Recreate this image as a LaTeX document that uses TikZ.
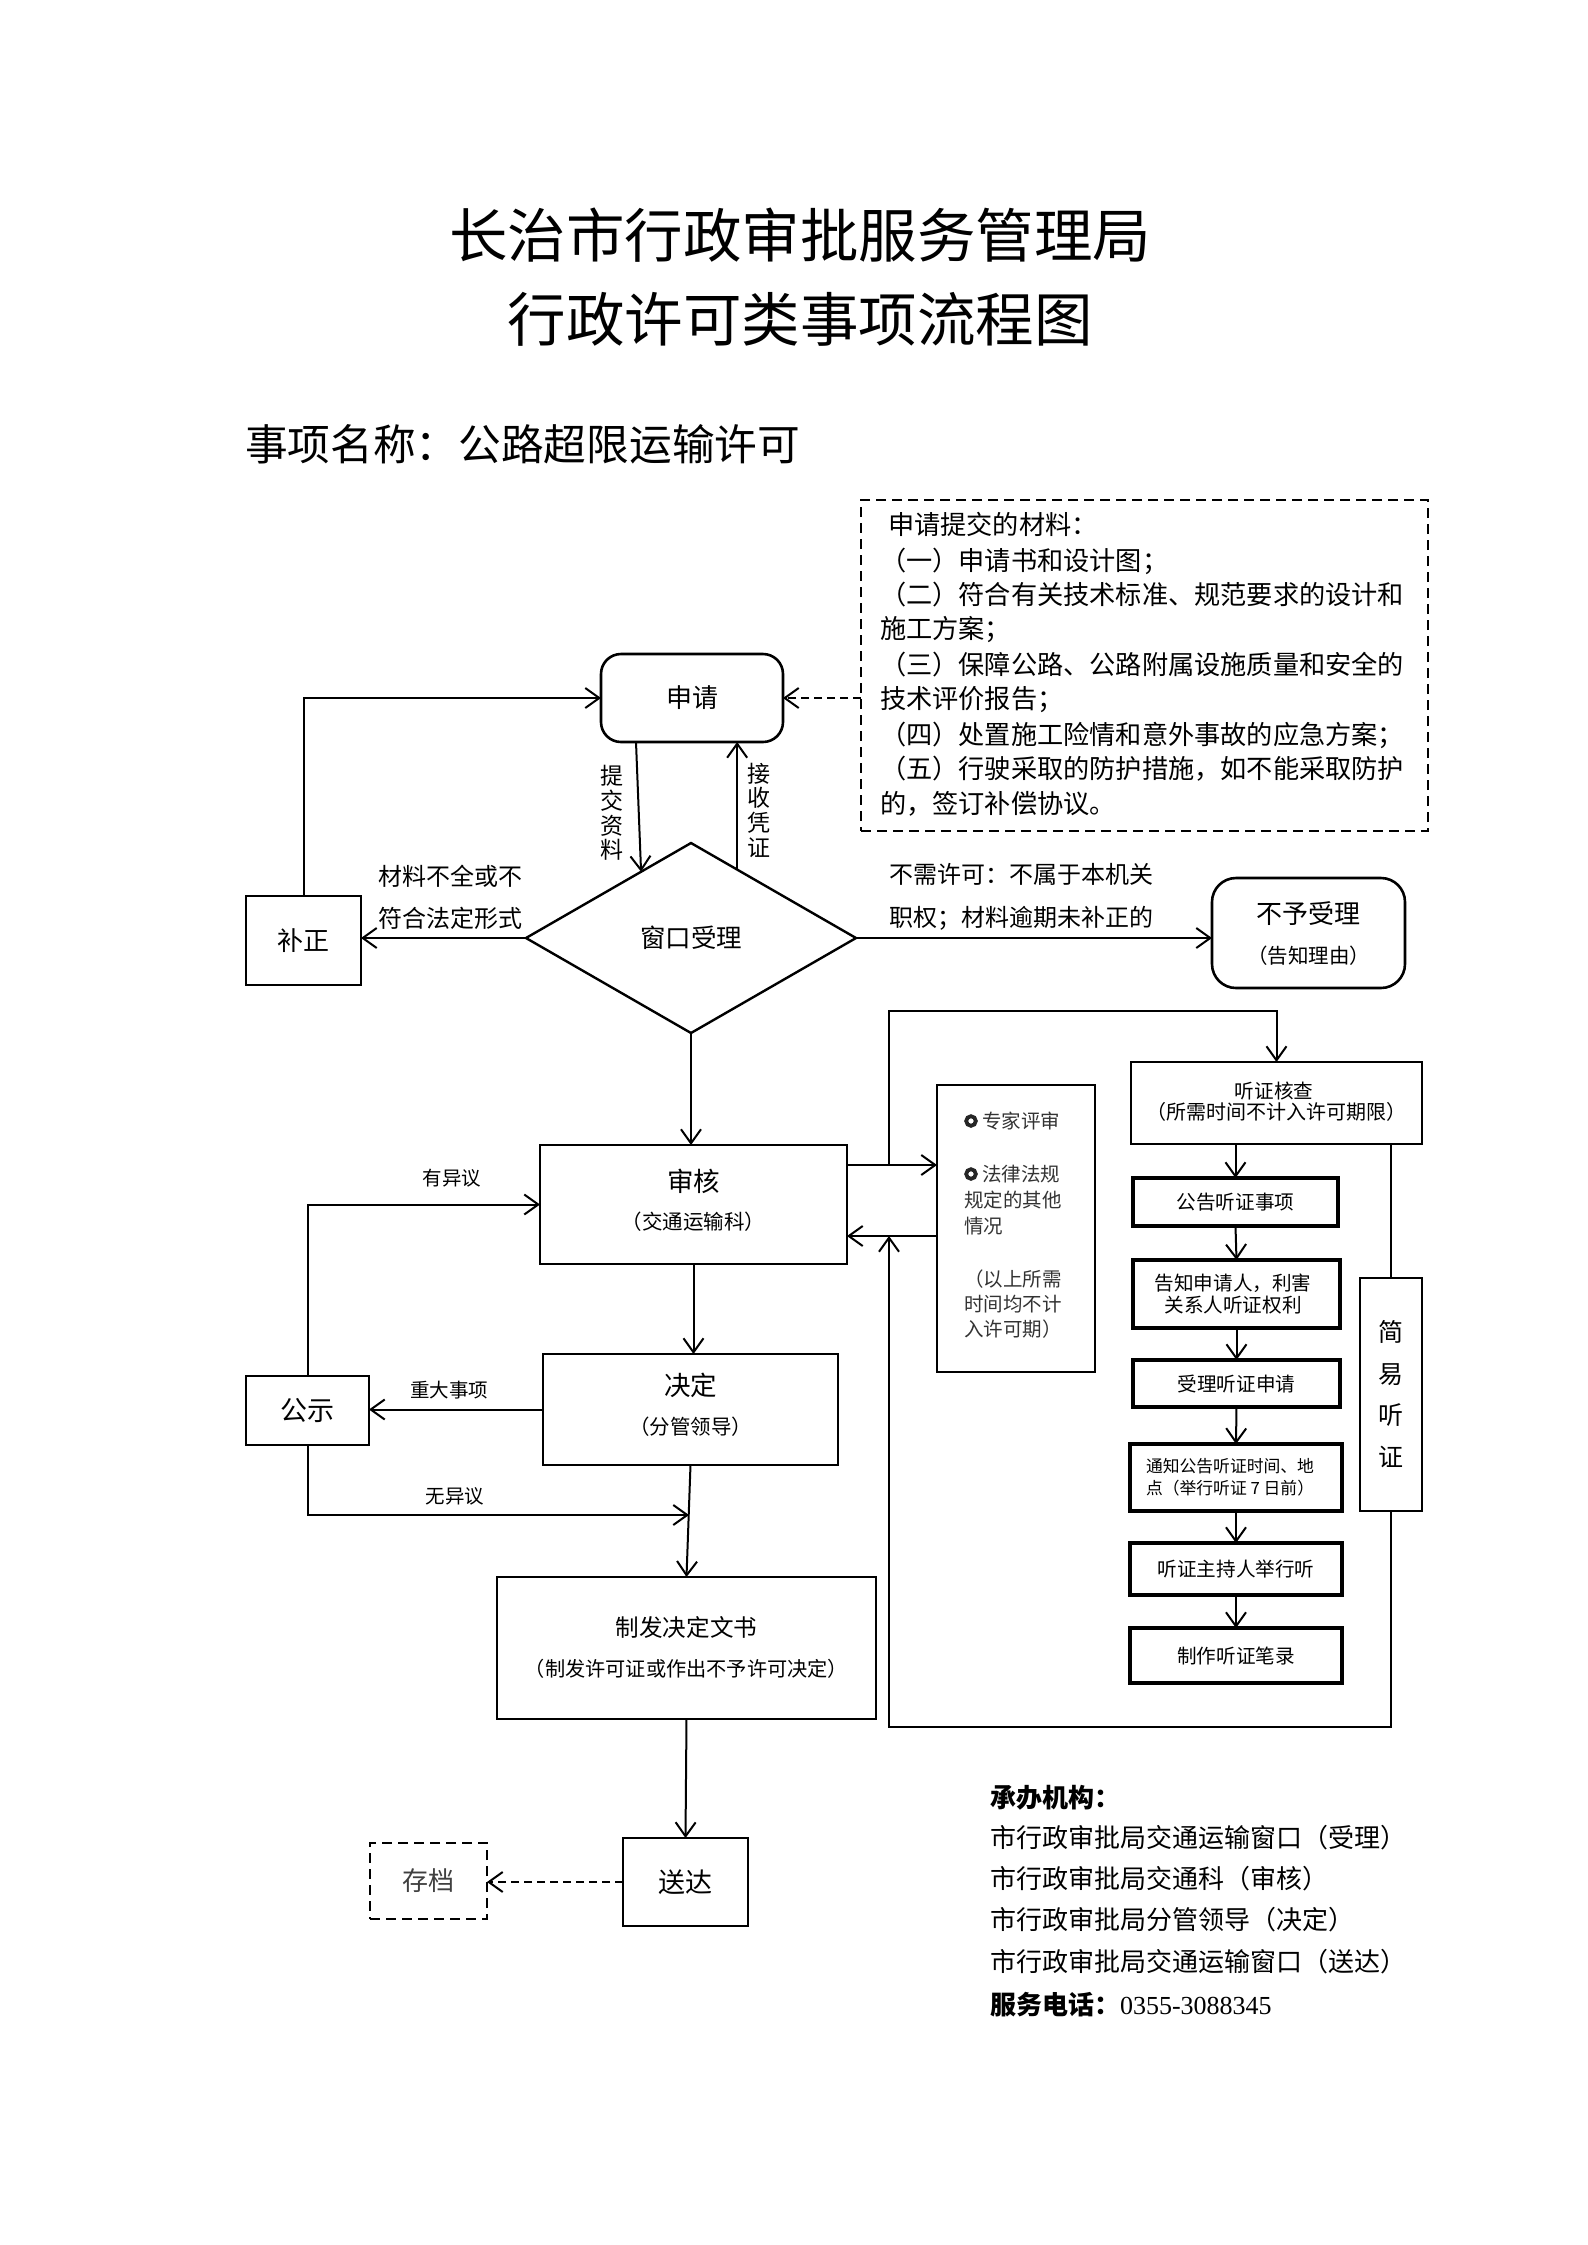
\documentclass[tikz,border=0pt]{standalone}
\usepackage{fontspec}
\setmainfont{Noto Sans CJK SC}
\newfontfamily\numfont{Liberation Serif}
\usetikzlibrary{arrows.meta,shapes.geometric,calc}
\newcommand\myfs[1]{\fontsize{#1}{#1}\selectfont}
\newcommand\mkbox[7]{%
  \node[#6, minimum width={(#4-#2)*0.5pt}, minimum height={(#5-#3)*0.5pt}] (#1) at ({(#2+#4)/2},{(#3+#5)/2}) {#7};}
\tikzset{
  bxs/.style={draw, line width=1.3pt, inner sep=0pt, outer sep=0pt},
  thk/.style={draw, line width=2pt, inner sep=0pt, outer sep=0pt},
  arr/.style={line width=1pt, -{Straight Barb[length=7pt,width=10pt,line width=1pt]}},
  ln/.style={line width=1pt},
  dsh/.style={dash pattern=on 5pt off 3pt},
  dshb/.style={dash pattern=on 4pt off 2.5pt},
  txt/.style={inner sep=0pt, outer sep=0pt},
  wtxt/.style={inner sep=0pt, outer sep=0pt, anchor=west},
}
\begin{document}
\begin{tikzpicture}[x=0.5pt,y=-0.5pt]
\useasboundingbox (0,0) rectangle (1587,2245);
\fill[white] (0,0) rectangle (1587,2245);

% titles
\node[txt, font=\myfs{29.25}] (t1) at (800,235) {长治市行政审批服务管理局};
\node[txt, font=\myfs{29.25}] (t2) at (800,319) {行政许可类事项流程图};
\node[wtxt, font=\myfs{21.35}] (t3) at (245,444) {事项名称：公路超限运输许可};

% dashed materials box
\mkbox{db}{861}{500}{1428}{831}{draw, line width=1.2pt, dsh, inner sep=0pt, outer sep=0pt}{}
\begin{scope}[every node/.style={wtxt, font=\myfs{13.1}}]
\node (d1) at (888,524) {申请提交的材料：};
\node (d2) at (880,561) {（一）申请书和设计图；};
\node (d3) at (880,595) {（二）符合有关技术标准、规范要求的设计和};
\node (d4) at (880,630) {施工方案；};
\node (d5) at (880,665) {（三）保障公路、公路附属设施质量和安全的};
\node (d6) at (880,700) {技术评价报告；};
\node (d7) at (880,735) {（四）处置施工险情和意外事故的应急方案；};
\node (d8) at (880,769) {（五）行驶采取的防护措施，如不能采取防护};
\node (d9) at (880,804) {的，签订补偿协议。};
\end{scope}

% main flow boxes
\mkbox{sq}{601}{654}{783}{742}{bxs, rounded corners=10pt, font=\myfs{13}}{申请}
\mkbox{bz}{246}{896}{361}{985}{bxs, font=\myfs{13}}{补正}
\node[diamond, draw, line width=1.2pt, inner sep=0pt, outer sep=0pt, minimum width=165pt, minimum height=95pt, font=\myfs{12.75}] (win) at (691,938) {窗口受理};
\mkbox{bsl}{1212}{878}{1405}{988}{bxs, rounded corners=12pt}{}
\node[txt, font=\myfs{13}] (bslA) at (1308.5,914) {不予受理};
\node[txt, font=\myfs{10.25}] (bslB) at (1308.5,956) {（告知理由）};
\mkbox{sh}{540}{1145}{847}{1264}{bxs}{}
\node[txt, font=\myfs{13.25}] (shA) at (693.5,1181) {审核};
\node[txt, font=\myfs{10.25}] (shB) at (693.5,1222) {（交通运输科）};
\mkbox{jd}{543}{1354}{838}{1465}{bxs}{}
\node[txt, font=\myfs{13.25}] (jdA) at (690.5,1385) {决定};
\node[txt, font=\myfs{10.25}] (jdB) at (690.5,1427) {（分管领导）};
\mkbox{gs}{246}{1376}{369}{1445}{bxs, font=\myfs{13.5}}{公示}
\mkbox{zf}{497}{1577}{876}{1719}{bxs}{}
\node[txt, font=\myfs{11.8}] (zfA) at (686.5,1627) {制发决定文书};
\node[txt, font=\myfs{10.1}] (zfB) at (686.5,1669) {（制发许可证或作出不予许可决定）};
\mkbox{sd}{623}{1838}{748}{1926}{bxs, font=\myfs{13.5}}{送达}
\mkbox{cd}{370}{1843}{487}{1919}{draw, line width=1.2pt, dsh, inner sep=0pt, outer sep=0pt, font=\myfs{13}, text=black!75}{存档}

% labels
\node[txt, align=center, font=\fontsize{11.5}{12.35}\selectfont] (lb1) at (612,813) {提\\交\\资\\料};
\node[txt, align=center, font=\fontsize{11.5}{12.35}\selectfont] (lb2) at (759,810) {接\\收\\凭\\证};
\node[wtxt, font=\myfs{12}] (lb3) at (378,876) {材料不全或不};
\node[wtxt, font=\myfs{12}] (lb4) at (378,918) {符合法定形式};
\node[wtxt, font=\myfs{12}] (lb5) at (889,874) {不需许可：不属于本机关};
\node[wtxt, font=\myfs{12}] (lb6) at (889,918) {职权；材料逾期未补正的};
\node[txt, font=\myfs{9.75}] (lb7) at (452,1178) {有异议};
\node[txt, font=\myfs{9.75}] (lb8) at (449,1390) {重大事项};
\node[txt, font=\myfs{9.75}] (lb9) at (455,1496) {无异议};

% right part
\mkbox{zj}{937}{1085}{1095}{1372}{bxs}{}
\begin{scope}[every node/.style={wtxt, font=\myfs{9.75}, text=black!80}]
\node (z1) at (982,1121) {专家评审};
\node (z2) at (982,1174) {法律法规};
\node (z3) at (964,1200) {规定的其他};
\node (z4) at (964,1226) {情况};
\node (z5) at (964,1279) {（以上所需};
\node (z6) at (964,1304) {时间均不计};
\node (z7) at (964,1329) {入许可期）};
\end{scope}
\draw[line width=1.9pt, black!85] ($(z1.west)+(-11,0)$) circle (2.4pt);
\draw[line width=1.9pt, black!85] ($(z2.west)+(-11,0)$) circle (2.4pt);

\mkbox{hc}{1131}{1062}{1422}{1144}{bxs}{}
\node[txt, font=\myfs{9.8}] (hcA) at (1274,1091) {听证核查};
\node[txt, font=\myfs{10}] (hcB) at (1276,1112) {（所需时间不计入许可期限）};
\mkbox{gg}{1133}{1178}{1338}{1226}{thk, font=\myfs{9.8}}{公告听证事项}
\mkbox{gz}{1133}{1260}{1340}{1328}{thk}{}
\node[txt, font=\myfs{9.8}] (gzA) at (1233,1283) {告知申请人，利害};
\node[txt, font=\myfs{9.8}] (gzB) at (1233,1305) {关系人听证权利};
\mkbox{sl}{1133}{1360}{1340}{1407}{thk, font=\myfs{9.8}}{受理听证申请}
\mkbox{tz}{1130}{1444}{1342}{1511}{thk}{}
\node[wtxt, font=\myfs{8.4}] (tzA) at (1146,1466) {通知公告听证时间、地};
\node[wtxt, font=\myfs{8.4}] (tzB) at (1146,1488) {点（举行听证 7 日前）};
\mkbox{zc}{1130}{1543}{1342}{1595}{thk, font=\myfs{9.8}}{听证主持人举行听}
\mkbox{bl}{1130}{1628}{1342}{1683}{thk, font=\myfs{9.8}}{制作听证笔录}
\mkbox{jy}{1360}{1278}{1422}{1511}{bxs}{}
\node[txt, align=center, font=\fontsize{12.5}{20.85}\selectfont] (jyt) at (1391,1394) {简\\易\\听\\证};

% bottom text
\begin{scope}[every node/.style={wtxt, font=\myfs{13}}]
\node (c1) at (990,1798) {\bfseries 承办机构：};
\node (c2) at (990,1838) {市行政审批局交通运输窗口（受理）};
\node (c3) at (990,1879) {市行政审批局交通科（审核）};
\node (c4) at (990,1920) {市行政审批局分管领导（决定）};
\node (c5) at (990,1962) {市行政审批局交通运输窗口（送达）};
\node (c6) at (990,2005) {{\bfseries 服务电话：}{\numfont 0355-3088345}};
\end{scope}

% connectors, left/main
\draw[arr, dshb] (db.west |- sq.east) -- (sq.east);
\draw[arr] ($(sq.south)+(-56,0)$) -- (win.127.1);
\draw[arr] (win.56.9) -- (win.56.9 |- sq.south);
\draw[arr] (win.west) -- (win.west -| bz.east);
\draw[arr] (bz.north) |- (sq.west);
\draw[arr] (win.east) -- (win.east -| bsl.west);
\draw[arr] (win.south) -- (win.south |- sh.north);
\draw[arr] (sh.south) -- (sh.south |- jd.north);
\draw[arr] (jd.west) -- (jd.west -| gs.east);
\draw[arr] (gs.north) |- (sh.west);
\coordinate (wy) at (689,1515);
\draw[arr] (gs.south) |- (wy);
\draw[arr] (jd.south) -- (zf.north);
\draw[arr] (zf.south) -- (sd.north);
\draw[arr, dshb] (sd.west) -- (sd.west -| cd.east);

% connectors, right
\coordinate (jA) at (889,1165);
\coordinate (jB) at (889,1236);
\coordinate (ltop) at (889,1011);
\coordinate (lbr) at (1391,1727);
\coordinate (lbl) at (889,1727);
\draw[arr] (sh.east |- jA) -- (zj.west |- jA);
\draw[arr] (jA) -- (ltop) -| (hc.north);
\draw[arr] (zj.west |- jB) -- (sh.east |- jB);
\draw[arr] (jy.south) -- (lbr) -- (lbl) -- (jB);
\draw[ln] (hc.south -| jy.north) -- (jy.north);
\draw[arr] (hc.south -| gg.north) -- (gg.north);
\draw[arr] (gg.south) -- (gz.north);
\draw[arr] (gz.south) -- (sl.north);
\draw[arr] (sl.south) -- (tz.north);
\draw[arr] (tz.south) -- (zc.north);
\draw[arr] (zc.south) -- (bl.north);
\end{tikzpicture}
\end{document}
